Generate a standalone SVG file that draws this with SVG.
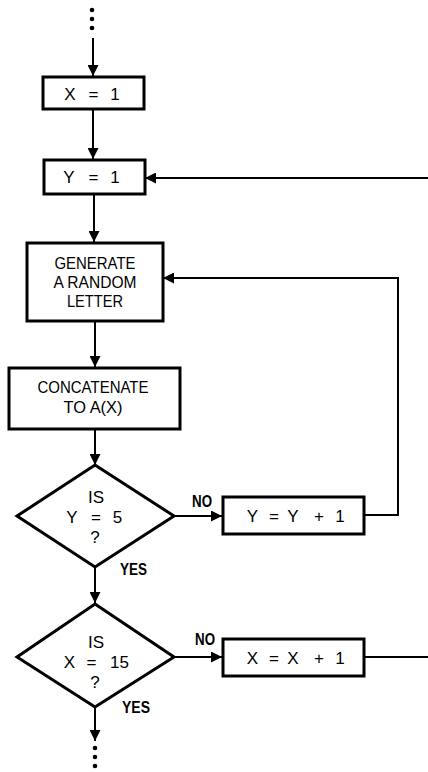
<svg xmlns="http://www.w3.org/2000/svg" width="428" height="772" viewBox="0 0 428 772">
<style>
.box{fill:#fff;stroke:#000;stroke-width:3}
.ln{fill:none;stroke:#000;stroke-width:2}
.t{font-family:"Liberation Sans",Arial,sans-serif;font-size:17px;text-anchor:middle;fill:#000}
.lb{font-family:"Liberation Sans",Arial,sans-serif;font-size:16px;font-weight:bold;fill:#000}
</style>
<defs>
<marker id="ah" viewBox="0 0 10 10" refX="10" refY="5" markerWidth="11" markerHeight="11" markerUnits="userSpaceOnUse" orient="auto">
<path d="M0,0 L10,5 L0,10 z" fill="#000"/>
</marker>
</defs>
<g id="connectors">
<circle cx="92" cy="10" r="2.3"/><circle cx="92" cy="19" r="2.3"/><circle cx="92" cy="28" r="2.3"/>
<path class="ln" d="M93,38 V76" marker-end="url(#ah)"/>
<path class="ln" d="M93,109 V159" marker-end="url(#ah)"/>
<path class="ln" d="M428,178 H145" marker-end="url(#ah)"/>
<path class="ln" d="M94,195 V242" marker-end="url(#ah)"/>
<path class="ln" d="M364,515 H398 V278 H163" marker-end="url(#ah)"/>
<path class="ln" d="M95,321 V367" marker-end="url(#ah)"/>
<path class="ln" d="M95,429 V465" marker-end="url(#ah)"/>
<path class="ln" d="M174,516 H222" marker-end="url(#ah)"/>
<path class="ln" d="M95,567 V603" marker-end="url(#ah)"/>
<path class="ln" d="M174,657 H222" marker-end="url(#ah)"/>
<path class="ln" d="M364,657 H428"/>
<path class="ln" d="M95,707 V741" marker-end="url(#ah)"/>
<circle cx="95" cy="748" r="2.3"/><circle cx="95" cy="757" r="2.3"/><circle cx="95" cy="766" r="2.3"/>
<text class="lb" x="192" y="507" textLength="20" lengthAdjust="spacingAndGlyphs">NO</text>
<text class="lb" x="120" y="575" textLength="27" lengthAdjust="spacingAndGlyphs">YES</text>
<text class="lb" x="195" y="645" textLength="20" lengthAdjust="spacingAndGlyphs">NO</text>
<text class="lb" x="122" y="713" textLength="28" lengthAdjust="spacingAndGlyphs">YES</text>
</g>
<g id="x1">
<rect class="box" x="43" y="77" width="101" height="32"/>
<text class="t" y="100"><tspan x="70">X</tspan><tspan x="93.5">=</tspan><tspan x="115">1</tspan></text>
</g>
<g id="y1">
<rect class="box" x="44" y="160" width="101" height="34"/>
<text class="t" y="183"><tspan x="69">Y</tspan><tspan x="93.5">=</tspan><tspan x="115">1</tspan></text>
</g>
<g id="generate">
<rect class="box" x="27" y="243" width="136" height="78"/>
<text class="t" x="95" y="269" textLength="81" lengthAdjust="spacingAndGlyphs">GENERATE</text>
<text class="t" x="95" y="288" textLength="83" lengthAdjust="spacingAndGlyphs">A RANDOM</text>
<text class="t" x="95" y="307" textLength="56" lengthAdjust="spacingAndGlyphs">LETTER</text>
</g>
<g id="concatenate">
<rect class="box" x="9" y="368" width="171" height="61"/>
<text class="t" x="93" y="393" textLength="111" lengthAdjust="spacingAndGlyphs">CONCATENATE</text>
<text class="t" x="93" y="413" textLength="59" lengthAdjust="spacingAndGlyphs">TO A(X)</text>
</g>
<g id="isy5">
<polygon class="box" points="95,465 174,516 95,567 17,516"/>
<text class="t" x="96" y="503">IS</text>
<text class="t" y="523"><tspan x="72">Y</tspan><tspan x="96">=</tspan><tspan x="117.5">5</tspan></text>
<text class="t" x="95" y="543">?</text>
</g>
<g id="yinc">
<rect class="box" x="223" y="497" width="141" height="37"/>
<text class="t" y="522"><tspan x="252.5">Y</tspan><tspan x="274">=</tspan><tspan x="293">Y</tspan><tspan x="319">+</tspan><tspan x="340">1</tspan></text>
</g>
<g id="isx15">
<polygon class="box" points="95,604 174,657 95,707 17,657"/>
<text class="t" x="96" y="648">IS</text>
<text class="t" y="668"><tspan x="69.5">X</tspan><tspan x="91.5">=</tspan><tspan x="119.5">15</tspan></text>
<text class="t" x="95" y="688">?</text>
</g>
<g id="xinc">
<rect class="box" x="223" y="639" width="141" height="37"/>
<text class="t" y="664"><tspan x="252.5">X</tspan><tspan x="274">=</tspan><tspan x="293">X</tspan><tspan x="319">+</tspan><tspan x="340">1</tspan></text>
</g>
</svg>
